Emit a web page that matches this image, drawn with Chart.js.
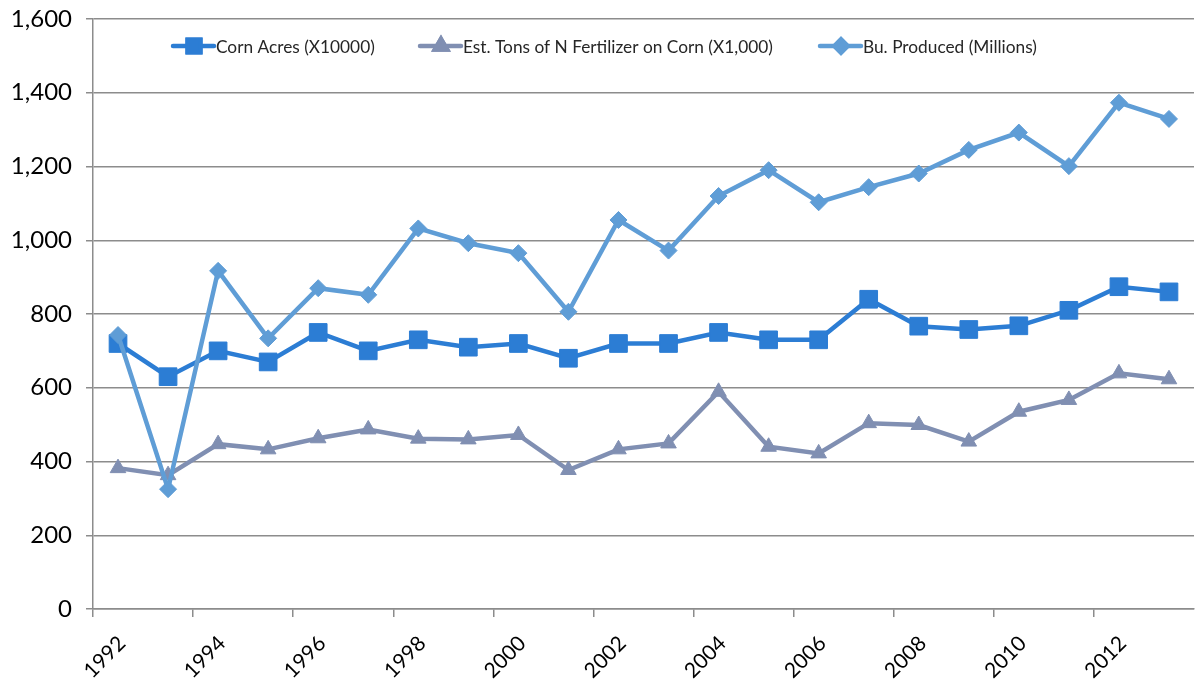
<!DOCTYPE html>
<html>
<head>
<meta charset="utf-8">
<script src="https://cdn.jsdelivr.net/npm/chart.js@4.4.0/dist/chart.umd.min.js"></script>
<style>
  html, body { margin: 0; padding: 0; background: #fff; }
  #wrap { width: 1195px; height: 683px; }
</style>
</head>
<body>
<div id="wrap"><canvas id="grafico" width="1195" height="683"></canvas></div>
<script>
// dados
const years = ["1992", "1993", "1994", "1995", "1996", "1997", "1998", "1999", "2000", "2001", "2002",
  "2003", "2004", "2005", "2006", "2007", "2008", "2009", "2010", "2011", "2012", "2013"];
const cornAcres = [720, 630, 700, 670, 750, 700, 730, 710, 720, 680, 720,
  720, 750, 730, 730, 840, 767, 758, 768, 810, 874, 860];
const fertTons = [382, 363, 447, 433, 463, 487, 462, 460, 472, 377, 433,
  449, 589, 440, 422, 504, 499, 454, 535, 567, 639, 623];
const buProduced = [743, 325, 917, 734, 870, 852, 1032, 992, 965, 806, 1055,
  972, 1120, 1190, 1103, 1144, 1181, 1245, 1292, 1201, 1373, 1329];
const seriesNames = ["Corn Acres (X10000)", "Est. Tons of N Fertilizer on Corn (X1,000)", "Bu. Produced (Millions)"];
const yMin = 0, yMax = 1600, yStep = 200;

const FONT = "Lato, 'Open Sans', sans-serif";
const GRID = "#8c8c8c";

// legenda desenhada dentro da área do gráfico
const legendInside = {
  id: "legendInside",
  afterDraw(chart) {
    const ctx = chart.ctx;
    const y = 46;
    const starts = [173, 420, 820];
    ctx.save();
    chart.data.datasets.forEach(function (ds, k) {
      const x0 = starts[k];
      ctx.strokeStyle = ds.borderColor;
      ctx.lineWidth = 4.5;
      ctx.lineCap = "round";
      ctx.beginPath();
      ctx.moveTo(x0, y);
      ctx.lineTo(x0 + 41, y);
      ctx.stroke();
      Chart.helpers.drawPoint(ctx, {
        pointStyle: ds.pointStyle,
        radius: ds.legendRadius,
        rotation: 0,
        borderWidth: 1
      }, x0 + 21, y);
      ctx.fillStyle = ds.pointBackgroundColor;
      ctx.strokeStyle = ds.pointBackgroundColor;
      ctx.fill();
      ctx.stroke();
      ctx.fillStyle = "#262626";
      ctx.font = "17.3px " + FONT;
      ctx.textBaseline = "middle";
      ctx.textAlign = "left";
      ctx.fillText(ds.label, x0 + 43, y + 1);
    });
    ctx.restore();
  }
};

function makeSeries(label, data, color, style, radius, legendRadius, order) {
  return {
    label: label,
    data: data,
    borderColor: color,
    backgroundColor: color,
    pointBackgroundColor: color,
    pointBorderColor: color,
    pointBorderWidth: 1,
    borderWidth: 4.5,
    pointStyle: style,
    pointRadius: radius,
    pointHoverRadius: radius,
    legendRadius: legendRadius,
    tension: 0,
    order: order,
    clip: false
  };
}

new Chart(document.getElementById("grafico"), {
  type: "line",
  data: {
    labels: years,
    datasets: [
      makeSeries(seriesNames[0], cornAcres, "rgb(44, 125, 212)", "rect", 12.5, 9, 2),
      makeSeries(seriesNames[1], fertTons, "rgb(128, 143, 178)", "triangle", 9, 7, 1),
      makeSeries(seriesNames[2], buProduced, "rgb(95, 157, 214)", "rectRot", 8.5, 6.5, 0)
    ]
  },
  options: {
    responsive: false,
    animation: false,
    layout: { autoPadding: false, padding: { top: 19, right: 1, left: 0, bottom: 0 } },
    plugins: {
      legend: { display: false },
      tooltip: { enabled: false }
    },
    scales: {
      x: {
        offset: true,
        grid: {
          offset: true,
          drawOnChartArea: false,
          drawTicks: true,
          tickLength: 8,
          lineWidth: 1.5,
          color: function (c) { return c.index % 2 === 0 ? GRID : "rgba(0,0,0,0)"; }
        },
        border: { display: true, color: GRID, width: 1.5 },
        ticks: {
          autoSkip: false,
          maxRotation: 45,
          minRotation: 45,
          padding: 14,
          labelOffset: 4,
          color: "#000",
          font: { family: FONT, size: 21 },
          callback: function (v, i) { return i % 2 === 0 ? years[i] : ""; }
        },
        afterFit: function (s) { s.height = 74; s.paddingLeft = 0; s.paddingRight = 0; }
      },
      y: {
        min: yMin,
        max: yMax,
        grid: { color: GRID, lineWidth: 1.5, tickLength: 7 },
        border: { display: true, color: GRID, width: 1.5 },
        ticks: {
          stepSize: yStep,
          padding: 14,
          color: "#000",
          font: { family: FONT, size: 24 }
        },
        afterFit: function (s) { s.width = 93; s.paddingTop = 0; s.paddingBottom = 0; }
      }
    }
  },
  plugins: [legendInside]
});
</script>
</body>
</html>
